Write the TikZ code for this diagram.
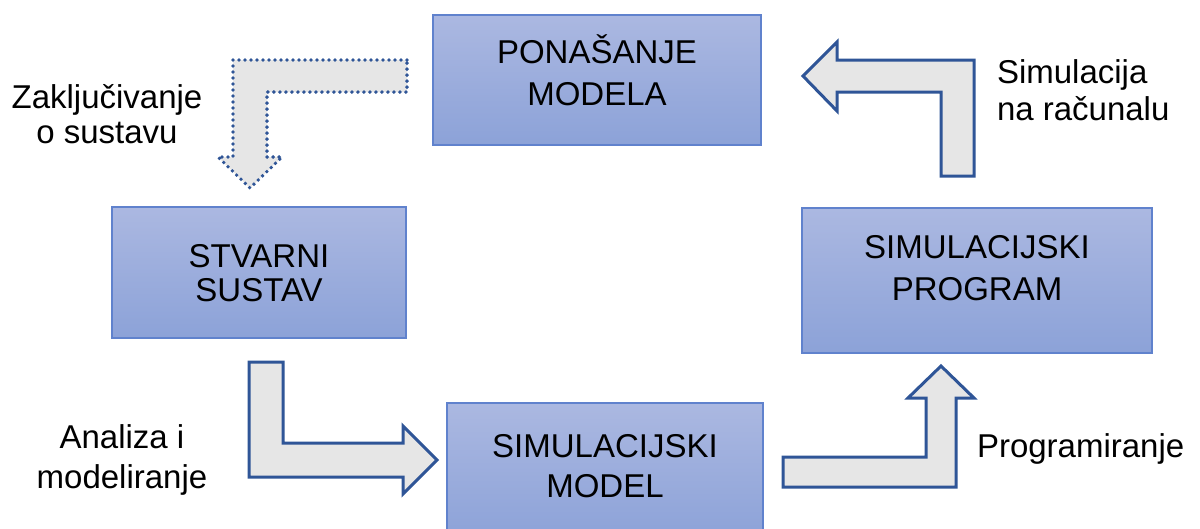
\documentclass[tikz,border=0pt]{standalone}
\usepackage{fontspec}
\setmainfont{Liberation Sans}
\definecolor{boxtop}{RGB}{171,184,225}
\definecolor{boxbot}{RGB}{140,162,216}
\definecolor{boxline}{RGB}{96,130,205}
\definecolor{arrfill}{RGB}{230,230,230}
\definecolor{arrline}{RGB}{47,85,151}
\begin{document}
\begin{tikzpicture}[x=1pt,y=-1pt,
  every node/.style={font=\fontsize{33}{40}\selectfont, inner sep=0pt, outer sep=0pt},
  blockbox/.style={draw=boxline, line width=1.5pt, top color=boxtop, bottom color=boxbot, shading angle=0},
  blockarrow/.style={draw=arrline, fill=arrfill, line width=3pt, line join=miter},
  dottedarrow/.style={draw=arrline, fill=arrfill, line width=3.8pt, line cap=round, dash pattern=on 0pt off 6pt},
  lbl/.style={align=center}
]
\clip (0,0) rectangle (1200,528);
\fill[white] (0,0) rectangle (1200,528);

% boxes
\path[blockbox] (433,15) rectangle (761,145);
\path[blockbox] (112,207) rectangle (406,338);
\path[blockbox] (802,208) rectangle (1152,353);
\path[blockbox] (447,403) rectangle (763,540);

% box texts (base anchor = baseline of last line)
\node[lbl, anchor=base] (pm) at (597,105) {PONAŠANJE\\[2pt]MODELA};
\node[lbl, anchor=base, font=\fontsize{33}{34}\selectfont] (ss) at (259,301) {STVARNI\\SUSTAV};
\node[lbl, anchor=base] (sp) at (977,300) {SIMULACIJSKI\\[2pt]PROGRAM};
\node[lbl, anchor=base] (sm) at (605,497) {SIMULACIJSKI\\MODEL};

% block arrows
\draw[dottedarrow] (407,60) -- (233,60) -- (233,157) -- (218,157) -- (250,188) -- (282,157) -- (267,157) -- (267,92) -- (407,92) -- cycle;
\draw[blockarrow] (249,362) -- (283,362) -- (283,443) -- (403,443) -- (403,426) -- (437,460) -- (403,494) -- (403,477) -- (249,477) -- cycle;
\draw[blockarrow] (783,457) -- (926,457) -- (926,398) -- (908,398) -- (941,366) -- (974,398) -- (956,398) -- (956,487) -- (783,487) -- cycle;
\draw[blockarrow] (974,176) -- (941,176) -- (941,92) -- (837,92) -- (837,111) -- (803,76) -- (837,42) -- (837,60) -- (974,60) -- cycle;

% labels
\node[lbl, anchor=base, font=\fontsize{33}{35}\selectfont] (zak) at (107,143) {Zaključivanje\\o sustavu};
\node[lbl, anchor=base] (ana) at (122,488) {Analiza i\\modeliranje};
\node[align=left, anchor=base west, font=\fontsize{33}{37}\selectfont] (sim) at (997,120) {Simulacija\\na računalu};
\node[anchor=base west] (prog) at (977,457) {Programiranje};
\end{tikzpicture}
\end{document}
